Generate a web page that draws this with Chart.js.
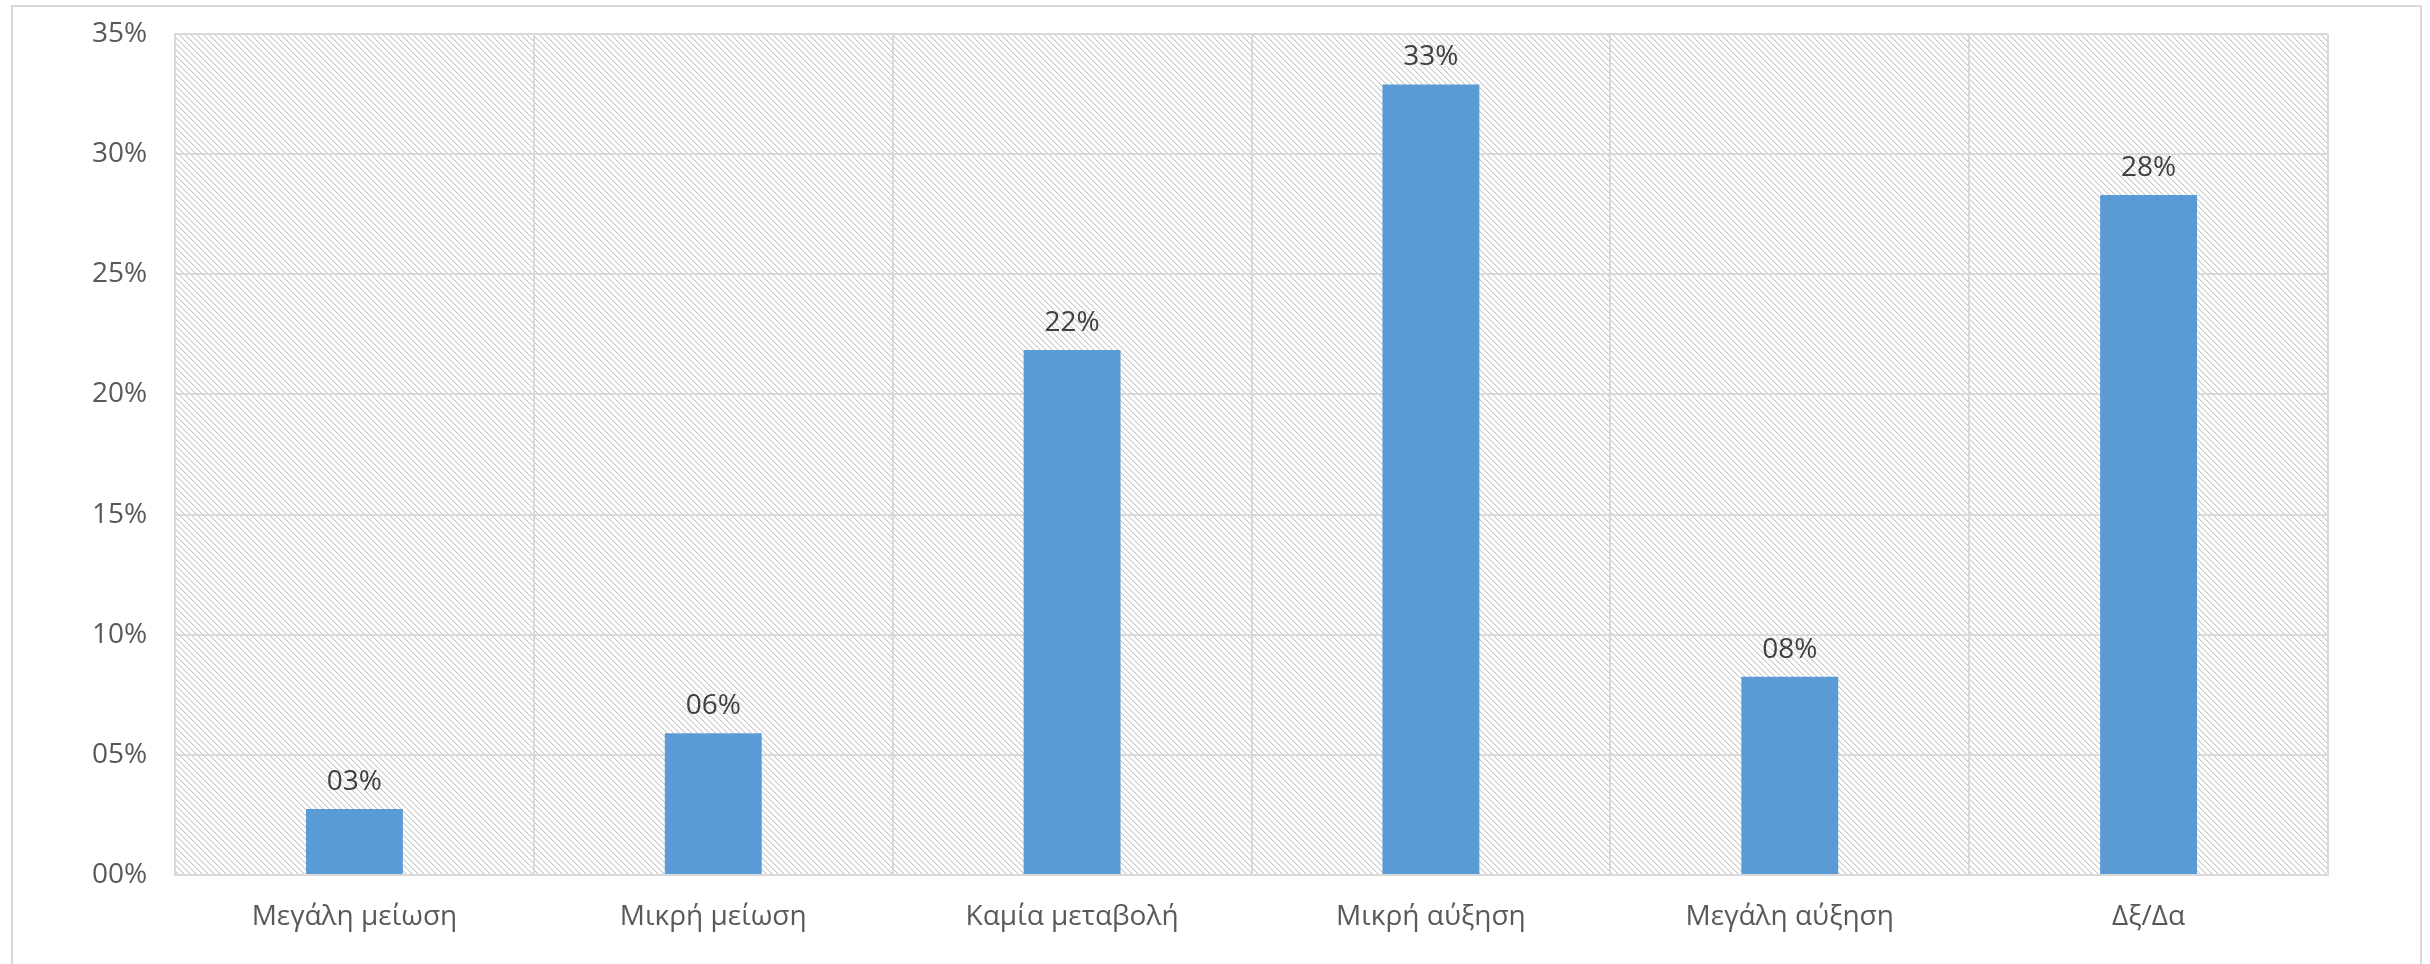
<!DOCTYPE html>
<html>
<head>
<meta charset="utf-8">
<script src="https://cdn.jsdelivr.net/npm/chart.js@4/dist/chart.umd.min.js"></script>
<style>
    html, body { margin: 0; padding: 0; background: #fff; }
    #wrap { width: 2430px; height: 964px; position: relative; }
</style>
</head>
<body>
<div id="wrap"><canvas id="answersChart" width="2430" height="964"></canvas></div>
<script>
const categories = ['Μεγάλη μείωση', 'Μικρή μείωση', 'Καμία μεταβολή', 'Μικρή αύξηση', 'Μεγάλη αύξηση', 'Δξ/Δα'];
const shares = [2.75, 5.9, 21.85, 32.9, 8.25, 28.3];
const yTicks = [0, 5, 10, 15, 20, 25, 30, 35];

const pct = (v) => String(Math.round(v)).padStart(2, '0') + '%';

// diagonal hatch like the office "light downward diagonal" fill
function hatchPattern(ctx) {
    const n = 6;
    const tile = document.createElement('canvas');
    tile.width = n;
    tile.height = n;
    const t = tile.getContext('2d');
    t.fillStyle = '#fff';
    t.fillRect(0, 0, n, n);
    for (let i = 0; i < n; i++) {
        t.fillStyle = '#c9c9c9';
        t.fillRect(i, i, 1, 1);
        t.fillStyle = '#e8e8e8';
        t.fillRect((i + 1) % n, i, 1, 1);
    }
    return ctx.createPattern(tile, 'repeat');
}

const frame = {
    id: 'frame',
    beforeDraw(chart) {
        const { ctx, chartArea: a } = chart;
        ctx.save();
        ctx.fillStyle = hatchPattern(ctx);
        ctx.fillRect(a.left, a.top, a.right - a.left, a.bottom - a.top);
        ctx.strokeStyle = '#d9d9d9';
        ctx.lineWidth = 2;
        ctx.strokeRect(12, 6, 2409, 1000);
        ctx.restore();
    },
    afterDatasetsDraw(chart) {
        const { ctx } = chart;
        const meta = chart.getDatasetMeta(0);
        ctx.save();
        ctx.font = '28px "Open Sans"';
        ctx.fillStyle = '#404040';
        ctx.textAlign = 'center';
        ctx.textBaseline = 'middle';
        meta.data.forEach((bar, i) => {
            ctx.fillText(pct(shares[i]), bar.x, bar.y - 27);
        });
        ctx.restore();
    },
};

new Chart(document.getElementById('answersChart'), {
    type: 'bar',
    data: {
        labels: categories,
        datasets: [{
            data: shares,
            backgroundColor: '#5b9bd5',
            borderWidth: 0,
            barPercentage: 0.54,
            categoryPercentage: 0.5,
        }],
    },
    options: {
        responsive: false,
        animation: false,
        layout: { padding: { top: 34, right: 102, left: 92, bottom: 0 } },
        plugins: { legend: { display: false }, tooltip: { enabled: false } },
        scales: {
            x: {
                grid: { color: '#d9d9d9', lineWidth: 2, drawTicks: false, offset: true },
                border: { color: '#d9d9d9', width: 2 },
                ticks: { color: '#595959', padding: 25, font: { size: 28, family: 'Open Sans' }, maxRotation: 0 },
                afterFit: (s) => { s.height = 89; },
            },
            y: {
                min: 0,
                max: 35,
                afterBuildTicks: (s) => { s.ticks = yTicks.map((v) => ({ value: v })); },
                grid: { color: '#d9d9d9', lineWidth: 2, drawTicks: false },
                border: { color: '#d9d9d9', width: 2 },
                ticks: { color: '#595959', padding: 0, crossAlign: 'far', font: { size: 28, family: 'Open Sans' }, callback: (v) => pct(v) },
                afterFit: (s) => { s.width = 83; },
            },
        },
    },
    plugins: [frame],
});
</script>
</body>
</html>
